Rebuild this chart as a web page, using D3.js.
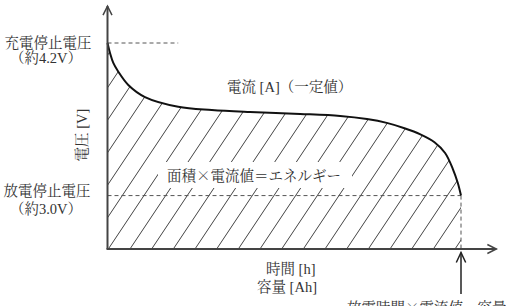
<!DOCTYPE html>
<html>
<head>
<meta charset="utf-8">
<script src="https://cdn.jsdelivr.net/npm/d3@7"></script>
<style>
  html, body { margin: 0; padding: 0; background: #fff; }
  svg { display: block; }
  text { font-family: "Liberation Serif", "Noto Serif CJK JP", "Noto Sans CJK JP", serif; font-size: 14.5px; fill: #333; }
  tspan.cjk { font-family: "Noto Serif CJK JP", "Noto Sans CJK JP", serif; }
</style>
</head>
<body>
<svg id="chart" width="506" height="306"></svg>
<script>
// Discharge curve (capacity fraction vs voltage)
const capacity = [0, 0.0071, 0.0164, 0.0306, 0.0588, 0.106, 0.200, 0.295, 0.403, 0.545, 0.658, 0.734, 0.790, 0.840, 0.885, 0.925, 0.955, 0.977, 0.991, 1.0];
const voltage  = [4.2, 4.121, 4.043, 3.974, 3.870, 3.775, 3.699, 3.673, 3.657, 3.642, 3.626, 3.602, 3.572, 3.530, 3.482, 3.420, 3.335, 3.209, 3.099, 3.0];
const chargeCutoff = 4.2;
const dischargeCutoff = 3.0;
const labels = {
  charge: ["充電停止電圧", "（約4.2V）"],
  discharge: ["放電停止電圧", "（約3.0V）"],
  current: "電流 [A]（一定値）",
  energy: "面積×電流値＝エネルギー",
  xlab: ["時間 [h]", "容量 [Ah]"],
  ylab: "電圧 [V]",
  capacityNote: "放電時間×電流値＝容量"
};

const svg = d3.select("#chart");
const x = d3.scaleLinear().domain([0, 1]).range([107.5, 461]);
const y = d3.scaleLinear().domain([2.58, 4.2]).range([249, 43]);
const xMax = 1.1, yMax = 4.49;
const x0 = x(0), yBase = y(2.58);

const pts = capacity.map((c, i) => [c, voltage[i]]);
const curve = d3.curveCatmullRom.alpha(0.5);

// clip region under curve
const area = d3.area().x(d => x(d[0])).y0(yBase).y1(d => y(d[1])).curve(curve);
svg.append("clipPath").attr("id", "under").append("path").attr("d", area(pts));

// hatch lines
const hatch = svg.append("g").attr("clip-path", "url(#under)");
const spacing = 21.67, slope = 0.667;
for (let k = -14; k <= 18; k++) {
  const bx = x0 + 0.8 + k * spacing;
  hatch.append("line")
    .attr("x1", bx).attr("y1", yBase)
    .attr("x2", bx + slope * yBase).attr("y2", 0)
    .attr("stroke", "#444").attr("stroke-width", 1);
}

// white box behind energy label
svg.append("rect").attr("x", 158).attr("y", 162).attr("width", 194).attr("height", 26).attr("fill", "#fff");

// dashed guides
const dash = { stroke: "#555", "stroke-width": 1, "stroke-dasharray": "4,3" };
function dline(x1, y1, x2, y2) {
  const l = svg.append("line").attr("x1", x1).attr("y1", y1).attr("x2", x2).attr("y2", y2);
  Object.entries(dash).forEach(([k, v]) => l.attr(k, v));
}
dline(x0, y(chargeCutoff), x(0.2), y(chargeCutoff));
dline(x0, y(dischargeCutoff), x(1), y(dischargeCutoff));
dline(x(1), y(dischargeCutoff), x(1), yBase);

// curve
const line = d3.line().x(d => x(d[0])).y(d => y(d[1])).curve(curve);
svg.append("path").attr("d", line(pts)).attr("fill", "none").attr("stroke", "#111").attr("stroke-width", 2);

// axes with open arrowheads
const axisColor = "#444";
const ax = svg.append("g").attr("stroke", axisColor).attr("stroke-width", 2).attr("fill", "none");
ax.append("line").attr("x1", x0).attr("y1", yBase).attr("x2", x0).attr("y2", y(yMax));
ax.append("path").attr("d", `M${x0 - 4.5},${y(yMax) + 9}L${x0},${y(yMax)}L${x0 + 4.5},${y(yMax) + 9}`).attr("stroke-width", 1.5);
ax.append("line").attr("x1", x0 - 1).attr("y1", yBase).attr("x2", x(xMax)).attr("y2", yBase);
ax.append("path").attr("d", `M${x(xMax) - 9},${yBase - 4.5}L${x(xMax)},${yBase}L${x(xMax) - 9},${yBase + 4.5}`).attr("stroke-width", 1.5);

// capacity pointer arrow
const ar = svg.append("g").attr("stroke", "#222").attr("stroke-width", 1.5).attr("fill", "none");
ar.append("line").attr("x1", x(1)).attr("y1", 294).attr("x2", x(1)).attr("y2", yBase + 3.5);
ar.append("path").attr("d", `M${x(1) - 4.7},${yBase + 13.5}L${x(1)},${yBase + 3.5}L${x(1) + 4.7},${yBase + 13.5}`);

// texts (× rendered with the CJK font as in the reference)
function txt(s, tx, ty, anchor) {
  const t = svg.append("text").attr("x", tx).attr("y", ty).attr("text-anchor", anchor || "start");
  s.split(/(×)/).forEach(part => {
    if (!part) return;
    const ts = t.append("tspan").text(part);
    if (part === "×") ts.attr("class", "cjk");
  });
  return t;
}
txt(labels.charge[0], 48, 48, "middle");
txt(labels.charge[1], 46, 63, "middle");
txt(labels.discharge[0], 47, 196, "middle");
txt(labels.discharge[1], 46, 214, "middle");
txt(labels.current, 227, 92);
txt(labels.energy, 167, 181);
txt(labels.xlab[0], 266, 274);
txt(labels.xlab[1], 257, 292);
txt(labels.capacityNote, 347, 313);
svg.append("text").attr("transform", "translate(87,135) rotate(-90)").attr("text-anchor", "middle").text(labels.ylab);
</script>
</body>
</html>
